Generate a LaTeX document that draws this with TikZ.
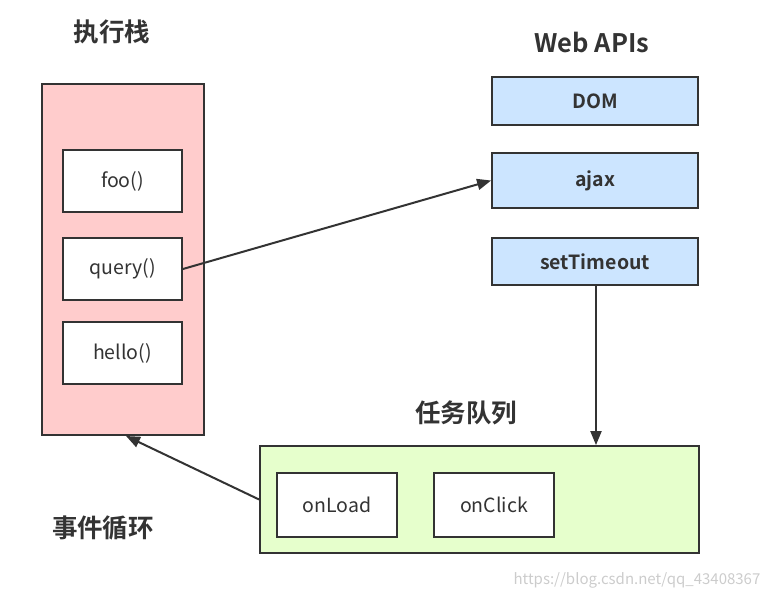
\documentclass[tikz,border=0pt]{standalone}
\usepackage{fontspec}
\setmainfont{Noto Sans CJK SC}
\newfontfamily\cjkb{Noto Sans CJK SC Bold}
\usetikzlibrary{arrows.meta}
\definecolor{stackfill}{HTML}{FFCCCC}
\definecolor{apifill}{HTML}{CCE5FF}
\definecolor{queuefill}{HTML}{E6FFCC}
\definecolor{edge}{HTML}{333333}
\tikzset{
  box/.style={draw=edge, line width=1.8pt, inner sep=0pt},
  callbox/.style={box, fill=white, minimum width=119pt, minimum height=62pt, font=\fontsize{19.5}{22}\selectfont, text=edge},
  apibox/.style={box, fill=apifill, minimum width=206pt, font=\cjkb\fontsize{19.5}{22}\selectfont, text=edge},
  title/.style={font=\cjkb\fontsize{25.5}{28}\selectfont, text=edge},
  conn/.style={draw=edge, line width=2pt, -{Triangle[length=14pt,width=11pt]}},
}
\begin{document}
\begin{tikzpicture}[x=1pt,y=-1pt]
\useasboundingbox (0,0) rectangle (769,598);
\node[title] (tstack) at (112,32) {执行栈};
\node[title] (tapi) at (592,42) {Web APIs};
\node[title] (tqueue) at (466,413) {任务队列};
\node[title] (tloop) at (103,528) {事件循环};

\node[box, fill=stackfill, minimum width=162pt, minimum height=351pt] (stack) at (123,259.5) {};
\node[callbox] (foo) at (122.5,181) {foo()};
\node[callbox] (query) at (122.5,269) {query()};
\node[callbox] (hello) at (122.5,353) {hello()};

\node[apibox, minimum height=48pt] (dom) at (595,101) {DOM};
\node[apibox, minimum height=55pt] (ajax) at (595,180.5) {ajax};
\node[apibox, minimum height=47pt] (timeout) at (595,261.5) {setTimeout};

\node[box, fill=queuefill, minimum width=439pt, minimum height=107pt] (queue) at (479.5,499.5) {};
\node[callbox, minimum width=120pt, minimum height=64pt] (onload) at (337,505) {onLoad};
\node[callbox, minimum width=120pt, minimum height=64pt] (onclick) at (494,505) {onClick};

\coordinate (loopend) at (126,436);
\draw[conn] (query.east) -- (ajax.west);
\draw[conn] (timeout.south -| 596,0) -- (queue.north -| 596,0);
\draw[conn] (queue.west) -- (loopend);

\node[text=black!20, font=\fontsize{15}{17}\selectfont] (wm) at (637,580) {https://blog.csdn.net/qq\_43408367};
\end{tikzpicture}
\end{document}
